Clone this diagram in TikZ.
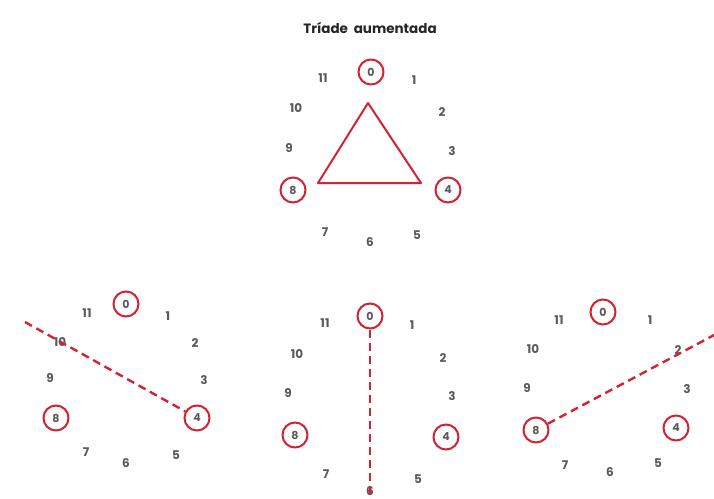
\documentclass[tikz,border=0pt]{standalone}
\usepackage{fontspec}
\setmainfont{Poppins}
\definecolor{clkred}{RGB}{208,36,52}
\definecolor{numgray}{RGB}{90,90,90}
\begin{document}
\begin{tikzpicture}[x=1pt,y=-1pt,
  num/.style={font=\bfseries\fontsize{12}{13}\selectfont, text=numgray, inner sep=0pt},
  pc/.style={circle, draw=clkred, line width=2pt, minimum size=25pt, inner sep=0pt, font=\bfseries\fontsize{11}{12}\selectfont, text=numgray},
  tri/.style={draw=clkred, line width=2pt, line join=round},
  axis/.style={draw=clkred, line width=2.4pt, dash pattern=on 8pt off 5pt}]
\useasboundingbox (0,0) rectangle (714,498);
\fill[white] (0,0) rectangle (714,498);
\node[font=\bfseries\fontsize{13.5}{15}\selectfont, text=black!85] (title) at (370,28) {Tríade\ \ aumentada};
% top clock
\node[pc] (t0) at (371,72) {0};
\node[num] (t11) at (323,78) {11};
\node[num] (t1) at (414,80) {1};
\node[num] (t10) at (296,108) {10};
\node[num] (t2) at (442,112) {2};
\node[num] (t9) at (289,148) {9};
\node[num] (t3) at (452,151) {3};
\node[pc] (t8) at (293,190) {8};
\node[pc] (t4) at (448,190) {4};
\node[num] (t7) at (325,232) {7};
\node[num] (t6) at (370,242) {6};
\node[num] (t5) at (417,235) {5};
\coordinate (ta) at (368,103);
\coordinate (tb) at (421,183);
\coordinate (tc) at (318,183);
\draw[tri] (ta) -- (tb) -- (tc) -- cycle;
% bottom left clock
\node[pc] (l0) at (126,304) {0};
\node[num] (l11) at (87,313) {11};
\node[num] (l1) at (168,316) {1};
\node[num] (l10) at (60,342) {10};
\node[num] (l2) at (195,343) {2};
\node[num] (l9) at (50,378) {9};
\node[num] (l3) at (204,380) {3};
\node[pc] (l8) at (56,418) {8};
\node[pc] (l4) at (197,418) {4};
\node[num] (l7) at (86,452) {7};
\node[num] (l6) at (126,463) {6};
\node[num] (l5) at (176,455) {5};
\coordinate (lend) at (25,322);
\draw[axis] (lend) -- (l4);
% bottom middle clock
\node[pc] (m0) at (370,316) {0};
\node[num] (m11) at (325,323) {11};
\node[num] (m1) at (412,325) {1};
\node[num] (m10) at (297,354) {10};
\node[num] (m2) at (443,358) {2};
\node[num] (m9) at (288,393) {9};
\node[num] (m3) at (452,396) {3};
\node[pc] (m8) at (295,435) {8};
\node[pc] (m4) at (446,437) {4};
\node[num] (m7) at (326,474) {7};
\node[num] (m6) at (370,491) {6};
\node[num] (m5) at (418,479) {5};
\coordinate (mend) at (370,500);
\draw[axis] (m0) -- (mend);
% bottom right clock
\node[pc] (r0) at (603,312) {0};
\node[num] (r11) at (559,320) {11};
\node[num] (r1) at (650,320) {1};
\node[num] (r10) at (533,349) {10};
\node[num] (r2) at (678,350) {2};
\node[num] (r9) at (527,388) {9};
\node[num] (r3) at (687,389) {3};
\node[pc] (r8) at (536,430) {8};
\node[pc] (r4) at (676,428) {4};
\node[num] (r7) at (565,465) {7};
\node[num] (r6) at (610,472) {6};
\node[num] (r5) at (658,463) {5};
\coordinate (rend) at (716,334);
\draw[axis] (r8) -- (rend);
\end{tikzpicture}
\end{document}
